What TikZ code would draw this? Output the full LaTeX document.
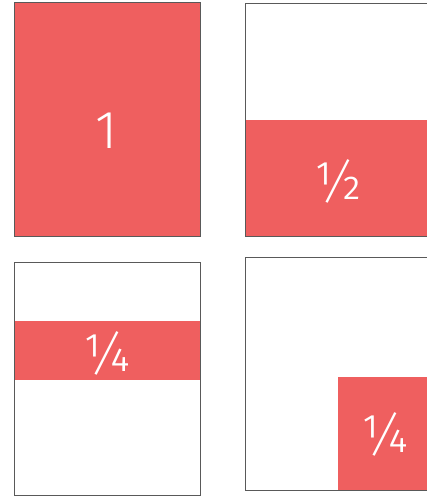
\documentclass[tikz,border=0pt]{standalone}
\usepackage{fontspec}
\setmainfont{Fira Sans}[UprightFont=* Light]
\definecolor{partred}{HTML}{EF5F5F}
\begin{document}
\begin{tikzpicture}[x=0.25mm,y=-0.25mm,
		part/.style={fill=partred},
		frame/.style={draw=black!65,line width=0.7pt},
		frac/.style={text=white,font=\fontsize{38}{38}\selectfont}]
			\useasboundingbox (0,0) rectangle (427,497);
			\clip (0,0) rectangle (427,497);
			% whole
			\fill[part] (14,2) rectangle (200,236);
			\draw[frame] (14,2) rectangle (200,236);
			\node[frac] (one) at (107,131) {1};
			% half
			\fill[part] (245,120) rectangle (432,236);
			\draw[frame] (245,3) rectangle (432,236);
			\node[frac] (half) at (338,181) {½};
			% quarter band
			\fill[part] (14,321) rectangle (200,380);
			\draw[frame] (14,262) rectangle (200,495);
			\node[frac] (quarterA) at (107,353) {¼};
			% quarter corner
			\fill[part] (338,377) rectangle (432,490);
			\draw[frame] (245,257) rectangle (432,490);
			\node[frac] (quarterB) at (385,434) {¼};
		\end{tikzpicture}
\end{document}
